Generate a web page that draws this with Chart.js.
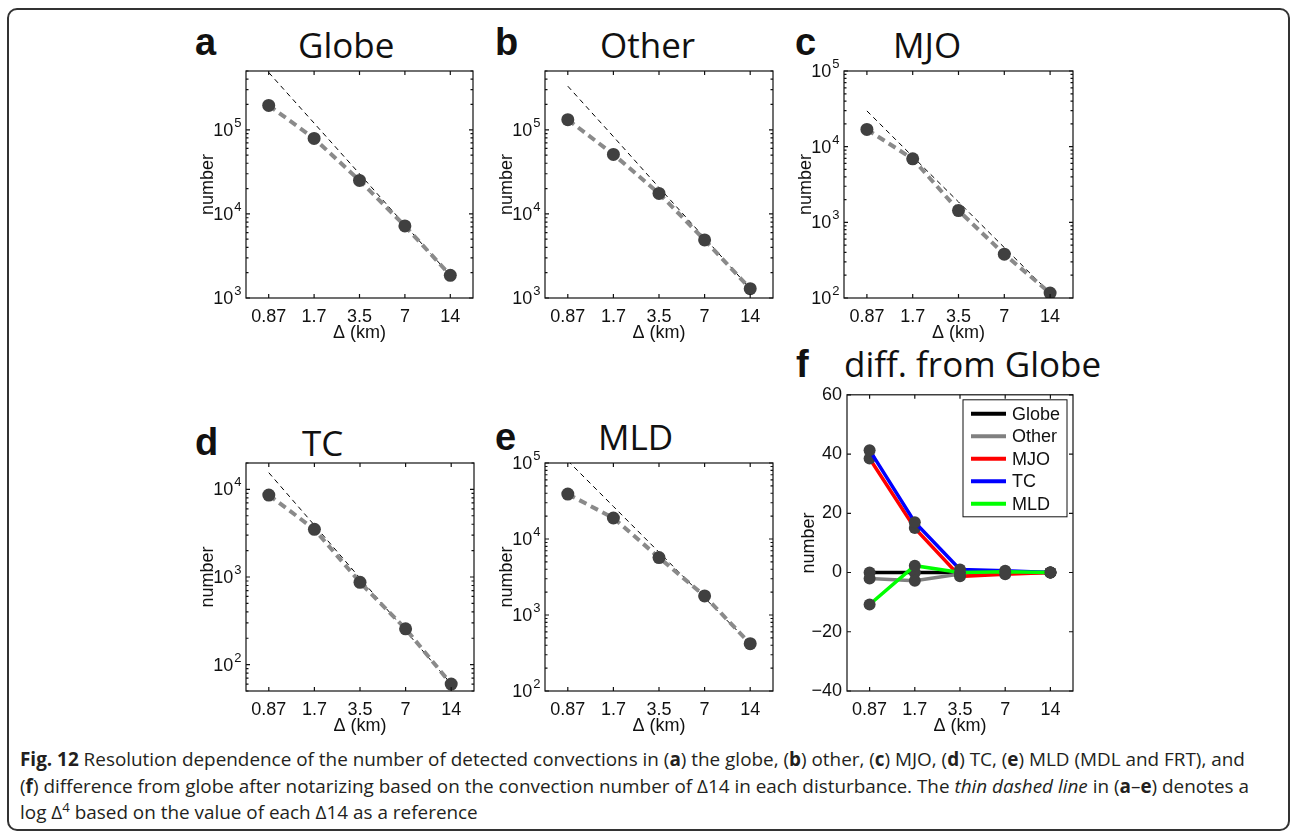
<!DOCTYPE html>
<html lang="en">
<head>
<meta charset="utf-8">
<title>Fig. 12</title>
<script src="https://cdn.jsdelivr.net/npm/chart.js"></script>
<style>
  body { margin: 0; background: #fff; width: 1291px; height: 833px; position: relative; overflow: hidden; }
  .frame { position: absolute; left: 7px; top: 8px; width: 1283px; height: 823px; border: 2px solid #333; border-radius: 10px; box-sizing: border-box; }
  canvas { position: absolute; }
  .letter { position: absolute; font: bold 38px 'Liberation Sans', Arial, sans-serif; line-height: 38px; color: #111; }
  .title { position: absolute; font: 35px 'Open Sans', sans-serif; line-height: 35px; color: #111; white-space: nowrap; }
  #caption { position: absolute; left: 20px; top: 746px; font: 18.9px 'Open Sans', sans-serif; line-height: 26.7px; color: #231f20; white-space: nowrap; }
  #caption sup { font-size: 0.7em; line-height: 0; vertical-align: 0.55em; }
</style>
</head>
<body>
<div class="frame"></div>

<div class="letter" style="left:195px; top:23px">a</div>
<div class="title" style="left:298px; top:27px">Globe</div>
<div class="letter" style="left:495px; top:23px">b</div>
<div class="title" style="left:600px; top:27px">Other</div>
<div class="letter" style="left:795px; top:23px">c</div>
<div class="title" style="left:893px; top:27px">MJO</div>
<div class="letter" style="left:195px; top:423px">d</div>
<div class="title" style="left:302px; top:425px">TC</div>
<div class="letter" style="left:495px; top:418px">e</div>
<div class="title" style="left:598px; top:419px">MLD</div>
<div class="letter" style="left:796px; top:345px">f</div>
<div class="title" style="left:844px; top:346px">diff. from Globe</div>

<canvas id="chartA" width="297" height="298" style="left:186px; top:55px"></canvas>
<canvas id="chartB" width="298" height="298" style="left:485px; top:55px"></canvas>
<canvas id="chartC" width="299" height="298" style="left:784px; top:55px"></canvas>
<canvas id="chartD" width="298" height="299" style="left:186px; top:447px"></canvas>
<canvas id="chartE" width="298" height="299" style="left:485px; top:447px"></canvas>
<canvas id="chartF" width="296" height="367" style="left:787px; top:379px"></canvas>

<div id="caption"><b>Fig. 12</b> Resolution dependence of the number of detected convections in (<b>a</b>) the globe, (<b>b</b>) other, (<b>c</b>) MJO, (<b>d</b>) TC, (<b>e</b>) MLD (MDL and FRT), and<br>(<b>f</b>) difference from globe after notarizing based on the convection number of Δ14 in each disturbance. The <i>thin dashed line</i> in (<b>a</b>–<b>e</b>) denotes a<br>log Δ<sup>4</sup> based on the value of each Δ14 as a reference</div>

<script>
const deltaLabels = ['0.87', '1.7', '3.5', '7', '14'];

// number of detected convections (log panels a-e) and the thin dashed reference
const globeCount = [1.95e5, 7.9e4, 2.5e4, 7.2e3, 1.86e3];
const globeRef   = [4.8e5, 1.2e5, 3.0e4, 7.4e3, 1.86e3];
const otherCount = [1.32e5, 5.1e4, 1.75e4, 4.9e3, 1.29e3];
const otherRef   = [3.3e5, 8.3e4, 2.06e4, 5.2e3, 1.29e3];
const mjoCount   = [1.69e4, 6.9e3, 1.43e3, 380, 116];
const mjoRef     = [2.97e4, 7.4e3, 1.86e3, 464, 116];
const tcCount    = [8.6e3, 3.5e3, 870, 256, 60];
const tcRef      = [1.55e4, 3.9e3, 970, 243, 60];
const mldCount   = [3.9e4, 1.89e4, 5.7e3, 1.78e3, 419];
const mldRef     = [1.07e5, 2.68e4, 6.7e3, 1.68e3, 419];

// panel f: difference from globe
const diffNames = ['Globe', 'Other', 'MJO', 'TC', 'MLD'];
const diffGlobe = [0, 0, 0, 0, 0];
const diffOther = [-2, -2.8, -0.5, 0, 0];
const diffMJO   = [38.5, 15, -1.3, -0.6, 0];
const diffTC    = [41.3, 17, 1, 0.6, 0];
const diffMLD   = [-10.8, 2.3, 0, 0.3, 0];
const diffTicks = [-40, -20, 0, 20, 40, 60];

const FONT = "'Liberation Sans', Arial, sans-serif";
Chart.defaults.font.family = FONT;
Chart.defaults.font.size = 18;
Chart.defaults.color = '#111';
Chart.defaults.animation = false;
Chart.defaults.plugins.legend.display = false;
Chart.defaults.plugins.tooltip.enabled = false;

// matlab style box with inward ticks, plus 10^n labels on the log axes
const axesBox = {
  id: 'axesBox',
  afterDraw(chart) {
    const {ctx, chartArea: a} = chart;
    const x = chart.scales.x, y = chart.scales.y;
    ctx.save();
    ctx.strokeStyle = '#111';
    ctx.lineWidth = 1.2;
    ctx.strokeRect(a.left, a.top, a.right - a.left, a.bottom - a.top);
    ctx.beginPath();
    x.ticks.forEach((t, i) => {
      const px = x.getPixelForTick(i);
      ctx.moveTo(px, a.bottom); ctx.lineTo(px, a.bottom - 4);
      ctx.moveTo(px, a.top); ctx.lineTo(px, a.top + 4);
    });
    const yTick = (v, len) => {
      const py = y.getPixelForValue(v);
      ctx.moveTo(a.left, py); ctx.lineTo(a.left + len, py);
      ctx.moveTo(a.right, py); ctx.lineTo(a.right - len, py);
    };
    const majors = [];
    if (y.type === 'logarithmic') {
      for (let k = Math.floor(Math.log10(y.min)); k <= Math.ceil(Math.log10(y.max)); k++) {
        for (let m = 1; m < 10; m++) {
          const v = m * Math.pow(10, k);
          if (v < y.min * 0.999 || v > y.max * 1.001) continue;
          if (m === 1) { majors.push(k); yTick(v, 4); } else yTick(v, 2.5);
        }
      }
    } else {
      y.ticks.forEach(t => yTick(t.value, 4));
    }
    ctx.stroke();
    majors.forEach(k => {
      const py = y.getPixelForValue(Math.pow(10, k));
      ctx.fillStyle = '#111';
      ctx.textAlign = 'right';
      ctx.font = '13px ' + FONT;
      ctx.textBaseline = 'alphabetic';
      const ex = String(k);
      const exW = ctx.measureText(ex).width;
      ctx.fillText(ex, a.left - 4.5, py - 3);
      ctx.font = '18px ' + FONT;
      ctx.textBaseline = 'middle';
      ctx.fillText('10', a.left - 5.5 - exW, py + 1);
    });
    ctx.restore();
  }
};

// legend drawn inside the plot box of panel f
const boxLegend = {
  id: 'boxLegend',
  afterDraw(chart) {
    const {ctx, chartArea: a} = chart;
    const w = 104, h = 117, left = a.right - 6 - w, top = a.top + 5;
    ctx.save();
    ctx.fillStyle = '#fff';
    ctx.fillRect(left, top, w, h);
    ctx.strokeStyle = '#111';
    ctx.lineWidth = 1;
    ctx.strokeRect(left, top, w, h);
    ctx.font = '18px ' + FONT;
    ctx.textBaseline = 'middle';
    chart.data.datasets.forEach((ds, i) => {
      const yy = top + 14 + i * 22.5;
      ctx.strokeStyle = ds.borderColor;
      ctx.lineWidth = 4;
      ctx.beginPath(); ctx.moveTo(left + 8, yy); ctx.lineTo(left + 43, yy); ctx.stroke();
      ctx.fillStyle = '#111';
      ctx.fillText(ds.label, left + 49, yy + 1);
    });
    ctx.restore();
  }
};

function xScale() {
  return {
    type: 'category',
    offset: true,
    grid: { display: false, drawTicks: false },
    border: { display: false },
    ticks: { padding: 8, maxRotation: 0, autoSkip: false },
    title: { display: true, text: 'Δ (km)', padding: { top: 0, bottom: 9 } },
    afterFit(s) { s.height = 55; }
  };
}

function yTitle() {
  return { display: true, text: 'number', padding: { top: 11, bottom: 0 } };
}

function logChart(id, counts, refs, yMin, yMax) {
  return new Chart(document.getElementById(id), {
    type: 'line',
    data: {
      labels: deltaLabels,
      datasets: [
        { data: counts, borderColor: '#8a8a8a', borderWidth: 4, borderDash: [8, 5],
          pointRadius: 6.5, pointBackgroundColor: '#404040', pointBorderWidth: 0 },
        { data: refs, borderColor: '#000', borderWidth: 1, borderDash: [5, 4], pointRadius: 0 }
      ]
    },
    options: {
      responsive: false,
      layout: { padding: { left: 0, top: 16, right: 10, bottom: 0 } },
      scales: {
        x: xScale(),
        y: {
          type: 'logarithmic', min: yMin, max: yMax,
          grid: { display: false, drawTicks: false },
          border: { display: false },
          ticks: { display: false },
          title: yTitle(),
          afterFit(s) { s.width = 60; }
        }
      }
    },
    plugins: [axesBox]
  });
}

logChart('chartA', globeCount, globeRef, 1e3, 5e5);
logChart('chartB', otherCount, otherRef, 1e3, 5e5);
logChart('chartC', mjoCount, mjoRef, 1e2, 1e5);
logChart('chartD', tcCount, tcRef, 50, 2e4);
logChart('chartE', mldCount, mldRef, 1e2, 1e5);

const diffColors = ['#000000', '#808080', '#ff0000', '#0000ff', '#00ff00'];
const diffSeries = [diffGlobe, diffOther, diffMJO, diffTC, diffMLD];

new Chart(document.getElementById('chartF'), {
  type: 'line',
  data: {
    labels: deltaLabels,
    datasets: diffSeries.map((vals, i) => ({
      label: diffNames[i],
      data: vals,
      borderColor: diffColors[i],
      borderWidth: 3.5,
      pointRadius: 6,
      pointBackgroundColor: '#404040',
      pointBorderWidth: 0,
      order: diffSeries.length - i
    }))
  },
  options: {
    responsive: false,
    layout: { padding: { left: 0, top: 12, right: 10, bottom: 0 } },
    scales: {
      x: xScale(),
      y: {
        min: -40, max: 60,
        afterBuildTicks(s) { s.ticks = diffTicks.map(v => ({ value: v })); },
        grid: { display: false, drawTicks: false },
        border: { display: false },
        ticks: { padding: 5, callback: v => (v < 0 ? '\u2212' + Math.abs(v) : String(v)) },
        title: yTitle(),
        afterFit(s) { s.width = 60; }
      }
    }
  },
  plugins: [axesBox, boxLegend]
});
</script>
</body>
</html>
